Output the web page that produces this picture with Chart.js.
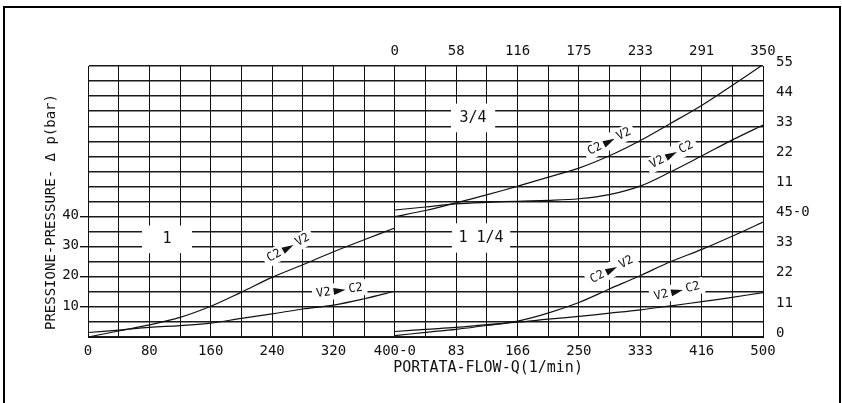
<!DOCTYPE html>
<html lang="en">
<head>
  <meta charset="utf-8">
  <title>Pressione - Portata</title>
  <script src="https://cdn.jsdelivr.net/npm/chart.js@4.4.0/dist/chart.umd.min.js"></script>
  <style>
    body { margin: 0; background: #fff; }
    #wrap { width: 842px; height: 403px; }
  </style>
</head>
<body>
  <div id="wrap"><canvas id="myChart"></canvas></div>
  <script>
    // tick labels, one every two grid squares
    const bottomTicks = ['0', '80', '160', '240', '320', '400-0', '83', '166', '250', '333', '416', '500'];
    const topTicks = ['0', '58', '116', '175', '233', '291', '350'];
    const leftTicks = ['10', '20', '30', '40'];
    const rightTicks = ['0', '11', '22', '33', '45-0', '11', '22', '33', '44', '55'];

    // size 1 : flow 0-400 l/min, pressure on the left scale
    const flow1 = [0, 40, 80, 120, 160, 200, 240, 280, 320, 360, 400];
    const c2v2_1 = [0, 2.0, 4.0, 6.5, 10.2, 14.9, 19.8, 24.0, 28.3, 32.3, 36.2];
    const v2c2_1 = [1.5, 2.3, 3.2, 3.8, 4.6, 6.2, 7.7, 9.3, 10.6, 12.7, 15.2];

    // size 3/4 : flow 0-350 on the top scale, pressure 0-55 on the right
    const flow34 = [0, 29, 58, 88, 117, 146, 175, 204, 233, 262, 292, 321, 350];
    const c2v2_34 = [0, 2.2, 5.0, 8.0, 11.1, 14.4, 17.7, 22.2, 27.7, 34.0, 40.7, 48.0, 55.5];
    const v2c2_34 = [2.4, 3.5, 4.6, 5.2, 5.6, 5.9, 6.5, 8.0, 11.1, 16.3, 22.2, 28.0, 33.4];

    // size 1 1/4 : flow 0-500 on the bottom scale, pressure 0-45 on the right
    const flow114 = [0, 42, 83, 125, 167, 208, 250, 292, 333, 375, 417, 458, 500];
    const c2v2_114 = [0.5, 1.7, 2.8, 4.2, 5.8, 8.7, 12.6, 17.6, 22.4, 27.6, 32.0, 36.8, 42.0];
    const v2c2_114 = [2.0, 2.8, 3.5, 4.5, 5.4, 6.5, 7.5, 8.7, 9.9, 11.4, 12.9, 14.5, 16.2];

    const pairs = (xs, ys) => xs.map((x, i) => ({ x: x, y: ys[i] }));

    const FONT = 'DejaVu Sans Mono';
    Chart.defaults.font.family = FONT;
    Chart.defaults.color = '#111';

    // size names, boxes in grid squares (u across, v up)
    const sizeBoxes = [
      { text: '1', u0: 1.76, u1: 3.39, v0: 5.57, v1: 7.4 },
      { text: '3/4', u0: 11.83, u1: 13.27, v0: 13.6, v1: 15.5 },
      { text: '1 1/4', u0: 11.86, u1: 13.76, v0: 5.6, v1: 7.55 }
    ];
    // direction tags along the curves: from -> to
    const tags = [
      { from: 'C2', to: 'V2', u: 6.53, v: 5.92, a: -29 },
      { from: 'V2', to: 'C2', u: 8.2, v: 3.08, a: -8 },
      { from: 'C2', to: 'V2', u: 16.99, v: 12.98, a: -27 },
      { from: 'V2', to: 'C2', u: 19.02, v: 12.1, a: -27 },
      { from: 'C2', to: 'V2', u: 17.07, v: 4.47, a: -27 },
      { from: 'V2', to: 'C2', u: 19.2, v: 3.03, a: -14 }
    ];

    const paperPlugin = {
      id: 'paper',
      beforeDraw(chart) {
        const ctx = chart.ctx;
        ctx.save();
        ctx.fillStyle = '#fff';
        ctx.fillRect(0, 0, chart.width, chart.height);
        ctx.strokeStyle = '#000';
        ctx.lineWidth = 2;
        ctx.strokeRect(4, 7, 836, 410);
        ctx.restore();
      },
      beforeDatasetsDraw(chart) {
        const ctx = chart.ctx;
        const sx = chart.scales.x, sy = chart.scales.y;
        ctx.save();
        ctx.textAlign = 'center';
        ctx.textBaseline = 'middle';
        ctx.fillStyle = '#111';

        sizeBoxes.forEach(b => {
          const x0 = sx.getPixelForValue(b.u0), x1 = sx.getPixelForValue(b.u1);
          const y0 = sy.getPixelForValue(b.v1), y1 = sy.getPixelForValue(b.v0);
          ctx.fillStyle = '#fff';
          ctx.fillRect(x0, y0, x1 - x0, y1 - y0);
          ctx.fillStyle = '#111';
          ctx.font = '15px ' + FONT;
          ctx.fillText(b.text, (x0 + x1) / 2, (y0 + y1) / 2);
        });

        ctx.font = '12px ' + FONT;
        tags.forEach(t => {
          ctx.save();
          ctx.translate(sx.getPixelForValue(t.u), sy.getPixelForValue(t.v));
          ctx.rotate(t.a * Math.PI / 180);
          const tw = ctx.measureText(t.from).width;
          const aw = 12, gap = 3;
          const w = tw * 2 + aw + gap * 2;
          ctx.fillStyle = '#fff';
          ctx.fillRect(-w / 2 - 4, -8, w + 8, 16);
          ctx.fillStyle = '#111';
          ctx.textAlign = 'left';
          ctx.fillText(t.from, -w / 2, 0);
          ctx.fillText(t.to, w / 2 - tw, 0);
          const ax = -w / 2 + tw + gap;
          ctx.beginPath();
          ctx.moveTo(ax, -3.5);
          ctx.lineTo(ax + aw, 0);
          ctx.lineTo(ax, 3.5);
          ctx.closePath();
          ctx.fill();
          ctx.restore();
        });

        // axis titles
        ctx.textAlign = 'center';
        ctx.font = '15px ' + FONT;
        ctx.fillText('PORTATA-FLOW-Q(1/min)', sx.getPixelForValue(13.04), 368);
        ctx.save();
        ctx.translate(51, sy.getPixelForValue(8.3));
        ctx.rotate(-Math.PI / 2);
        ctx.font = '14px ' + FONT;
        ctx.fillText('PRESSIONE-PRESSURE- \u0394 p(bar)', 0, 0);
        ctx.restore();
        ctx.restore();
      }
    };

    const curve = (label, data, xId, yId) => ({
      label: label,
      data: data,
      xAxisID: xId,
      yAxisID: yId,
      borderColor: '#111',
      borderWidth: 1.2,
      pointRadius: 0,
      fill: false,
      tension: 0.35
    });

    const hidden = (axis, min, max) => ({ axis: axis, type: 'linear', display: false, min: min, max: max });

    const config = {
      type: 'line',
      data: {
        datasets: [
          curve('1 C2-V2', pairs(flow1, c2v2_1), 'x1', 'y1'),
          curve('1 V2-C2', pairs(flow1, v2c2_1), 'x1', 'y1'),
          curve('3/4 C2-V2', pairs(flow34, c2v2_34), 'x34', 'y34'),
          curve('3/4 V2-C2', pairs(flow34, v2c2_34), 'x34', 'y34'),
          curve('1 1/4 C2-V2', pairs(flow114, c2v2_114), 'x114', 'y114'),
          curve('1 1/4 V2-C2', pairs(flow114, v2c2_114), 'x114', 'y114')
        ]
      },
      options: {
        responsive: true,
        maintainAspectRatio: false,
        animation: false,
        layout: { padding: 0 },
        plugins: { legend: { display: false }, tooltip: { enabled: false } },
        scales: {
          // grid squares: 22 across, 18 up
          x: {
            type: 'linear', position: 'bottom', min: 0, max: 22,
            afterFit: s => { s.height = 66; },
            grid: { color: '#111', lineWidth: 1, drawTicks: false },
            border: { color: '#111', width: 1 },
            ticks: {
              stepSize: 1, autoSkip: false, maxRotation: 0, padding: 6,
              font: { size: 14 },
              callback: v => v % 2 === 0 ? bottomTicks[v / 2] : ''
            }
          },
          xTop: {
            axis: 'x', type: 'linear', position: 'top', min: 0, max: 22,
            afterFit: s => { s.height = 66; },
            grid: { display: false },
            border: { display: false },
            ticks: {
              stepSize: 1, autoSkip: false, maxRotation: 0, padding: -2,
              font: { size: 14 },
              callback: v => (v >= 10 && v % 2 === 0) ? topTicks[(v - 10) / 2] : ''
            }
          },
          y: {
            type: 'linear', position: 'left', min: 0, max: 18,
            afterFit: s => { s.width = 88; },
            grid: {
              color: '#1a1a1a', lineWidth: 1.4, tickLength: 8,
              tickColor: c => (c.tick && [2, 4, 6, 8].includes(c.tick.value)) ? '#111' : 'rgba(0,0,0,0)'
            },
            border: { color: '#111', width: 1 },
            ticks: {
              stepSize: 1, autoSkip: false, padding: 1, labelOffset: -1,
              font: { size: 14 },
              callback: v => (v >= 2 && v <= 8 && v % 2 === 0) ? leftTicks[v / 2 - 1] : ''
            }
          },
          yRight: {
            axis: 'y', type: 'linear', position: 'right', min: 0, max: 18,
            afterFit: s => { s.width = 79; },
            grid: { display: false },
            border: { display: false },
            ticks: {
              stepSize: 1, autoSkip: false, padding: 5, labelOffset: -4,
              font: { size: 14 },
              callback: v => v % 2 === 0 ? rightTicks[v / 2] : ''
            }
          },
          x1: hidden('x', 0, 880),
          y1: hidden('y', 0, 90),
          x34: hidden('x', -350 * 10 / 12, 350),
          y34: hidden('y', -44, 55),
          x114: hidden('x', -500 * 10 / 12, 500),
          y114: hidden('y', 0, 99)
        }
      },
      plugins: [paperPlugin]
    };

    const myChart = new Chart(document.getElementById('myChart'), config);
  </script>
</body>
</html>
